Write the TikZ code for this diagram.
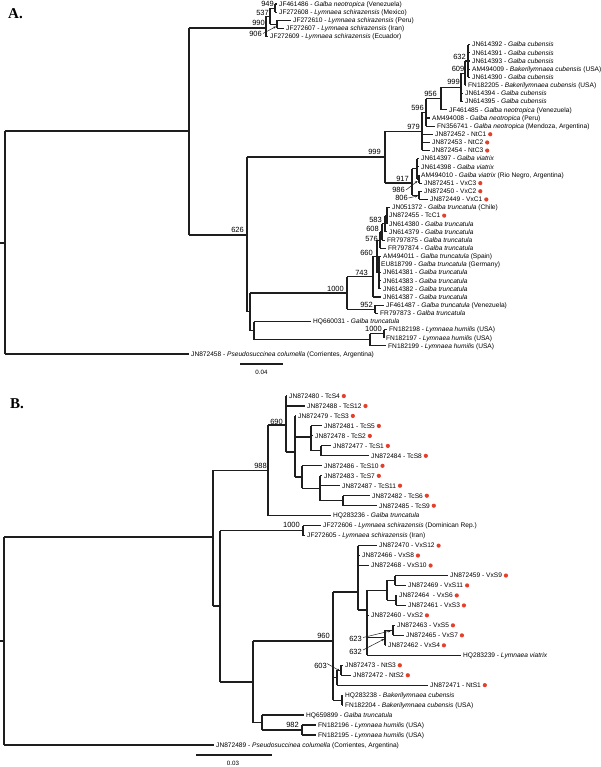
\documentclass[tikz,border=0pt]{standalone}
\usepackage{fontspec}
\setmainfont{Liberation Sans}
\newfontfamily\serifbold{Liberation Serif}
\usetikzlibrary{arrows.meta}
\definecolor{dotred}{HTML}{E5402B}
\definecolor{ln}{HTML}{1E1E1E}
\tikzset{
  br/.style={line width=1.05pt, draw=ln},
  tl/.style={anchor=base west, inner sep=0pt, font=\fontsize{6.6}{7}\selectfont},
  bs/.style={anchor=base east, inner sep=0pt, font=\fontsize{7.5}{8}\selectfont},
  pl/.style={anchor=base west, inner sep=0pt, font=\serifbold\bfseries\fontsize{15}{15}\selectfont},
  sc/.style={anchor=base, inner sep=0pt, font=\fontsize{6.2}{7}\selectfont},
  arr/.style={-{Stealth[length=3pt,width=2.2pt]}, line width=0.5pt, draw=ln},
}
\newcommand\myv[3]{\draw[br] (#1,#2) -- (#1,#3);}
\newcommand\myh[3]{\draw[br] (#1,#3) -- (#2,#3);}
\newcommand\mytip[5]{\draw[br] (#2,#4) -- (#3,#4); \node[tl, xshift=2pt, yshift=-2.3pt] (#1) at (#3,#4) {#5};}
\newcommand\myb[3]{\node[bs] at (#1,#2) {#3};}
\newcommand\mydot[1]{\fill[dotred] ([xshift=3.8pt]#1.east) circle (2.1pt);}
\begin{document}
\begin{tikzpicture}[x=1pt,y=-1pt]
\useasboundingbox (0,0) rectangle (600,767);
\fill[white] (0,0) rectangle (600,767);

% ================= Panel A =================
\node[pl] (lA) at (8,19) {A.};
\myh{0}{5}{243}
\myv{5}{131}{354}
\myh{5}{189}{131}
\myv{189}{28}{235}
% schirazensis clade
\myh{189}{266}{28}
\myv{266}{16.2}{36.6}
\myh{266}{270}{16.2}
\myv{270}{8.05}{24.35}
\myh{270}{275}{8.05}
\myv{275}{4}{12.1}
\myh{270}{277}{24.35}
\myv{277}{20.3}{28.4}
\mytip{a0}{275}{277}{4.0}{JF461486 - \textit{Galba neotropica} (Venezuela)}
\mytip{a1}{275}{277}{12.1}{JF272608 - \textit{Lymnaea schirazensis} (Mexico)}
\mytip{a2}{277}{291}{20.3}{JF272610 - \textit{Lymnaea schirazensis} (Peru)}
\mytip{a3}{277}{284}{28.4}{JF272607 - \textit{Lymnaea schirazensis} (Iran)}
\mytip{a4}{266}{268}{36.6}{JF272609 - \textit{Lymnaea schirazensis} (Ecuador)}
\myb{274}{7}{949}
\myb{269}{15.5}{537}
\myb{265}{26}{990}
\myb{262}{37}{906}
\draw[arr] (263,33.5) -- (276,26.5);

% main clade
\myh{189}{247}{235}
\myv{247}{157}{311.8}
\myb{244}{232}{626}
\myh{247}{385}{157}
\myv{385}{131.5}{183}
\myb{381}{155}{999}
% cubensis / neotropica
\myh{385}{422}{131.5}
\myv{422}{112.4}{150.5}
\myb{420}{129.5}{979}
\myh{422}{426}{112.4}
\myv{426}{98.6}{126.1}
\myb{424}{110.5}{596}
\myh{426}{441}{98.6}
\myv{441}{87.5}{109.8}
\myb{437}{97}{956}
\myh{441}{461}{87.5}
\myv{461}{73.2}{101.7}
\myb{460}{85}{999}
\myh{461}{465}{73.2}
\myv{465}{61}{85.4}
\myb{464.5}{71.5}{609}
\myh{465}{468}{61}
\myv{468}{44.7}{77.3}
\myb{466}{59.5}{632}
\mytip{a5}{468}{470}{44.7}{JN614392 - \textit{Galba cubensis}}
\mytip{a6}{468}{470}{52.8}{JN614391 - \textit{Galba cubensis}}
\mytip{a7}{468}{470}{61.0}{JN614393 - \textit{Galba cubensis}}
\mytip{a8}{468}{470}{69.1}{AM494009 - \textit{Bakerilymnaea cubensis} (USA)}
\mytip{a9}{468}{470}{77.3}{JN614390 - \textit{Galba cubensis}}
\mytip{a10}{465}{466}{85.4}{FN182205 - \textit{Bakerilymnaea cubensis} (USA)}
\mytip{a11}{461}{463}{93.5}{JN614394 - \textit{Galba cubensis}}
\mytip{a12}{461}{463}{101.7}{JN614395 - \textit{Galba cubensis}}
\mytip{a13}{441}{447}{109.8}{JF461485 - \textit{Galba neotropica} (Venezuela)}
\mytip{a14}{426}{430}{118.0}{AM494008 - \textit{Galba neotropica} (Peru)}
\mytip{a15}{426}{435}{126.1}{FN356741 - \textit{Galba neotropica} (Mendoza, Argentina)}
\mytip{a16}{422}{433}{134.2}{JN872452 - NtC1}\mydot{a16}
\mytip{a17}{422}{430}{142.4}{JN872453 - NtC2}\mydot{a17}
\mytip{a18}{422}{430}{150.5}{JN872454 - NtC3}\mydot{a18}
% viatrix
\myh{385}{412}{183}
\myv{412}{168.9}{195.3}
\myh{412}{417}{168.9}
\myv{417}{158.7}{179}
\myh{417}{419}{179}
\myv{419}{174.9}{183.1}
\myh{412}{419}{195.3}
\myv{419}{191.2}{199.4}
\mytip{a19}{417}{419}{158.7}{JN614397 - \textit{Galba viatrix}}
\mytip{a20}{417}{419}{166.8}{JN614398 - \textit{Galba viatrix}}
\mytip{a21}{419}{419}{174.9}{AM494010 - \textit{Galba viatrix} (Rio Negro, Argentina)}
\mytip{a22}{419}{422}{183.1}{JN872451 - VxC3}\mydot{a22}
\mytip{a23}{419}{422}{191.2}{JN872450 - VxC2}\mydot{a23}
\mytip{a24}{419}{428}{199.4}{JN872449 - VxC1}\mydot{a24}
\myb{409}{182}{917}
\myb{405}{193}{986}
\draw[arr] (406,190) -- (417.5,181);
\myb{408}{200.5}{806}
\draw[arr] (408.5,198) -- (418,195.8);
% truncatula
\myh{250}{347}{293}
\myv{347}{276.7}{309.3}
\myb{344}{291}{1000}
\myh{347}{373}{276.7}
\myv{373}{256.3}{297}
\myb{368}{275}{743}
\myh{373}{377}{256.3}
\myv{377}{240.1}{272.6}
\myb{373}{255}{660}
\myh{377}{380}{240.1}
\myv{380}{231.9}{248.2}
\myb{378}{241.5}{576}
\myh{380}{382}{231.9}
\myv{382}{223.8}{240.1}
\myb{379}{231.5}{608}
\myh{382}{385}{223.8}
\myv{385}{215.6}{231.9}
\myb{382}{222.5}{583}
\myh{385}{387}{215.6}
\myv{387}{207.5}{223.8}
\mytip{a25}{387}{390}{207.5}{JN051372 - \textit{Galba truncatula} (Chile)}
\mytip{a26}{387}{387}{215.6}{JN872455 - TcC1}\mydot{a26}
\mytip{a27}{387}{387}{223.8}{JN614380 - \textit{Galba truncatula}}
\mytip{a28}{385}{387}{231.9}{JN614379 - \textit{Galba truncatula}}
\mytip{a29}{382}{385}{240.1}{FR797875 - \textit{Galba truncatula}}
\mytip{a30}{380}{386}{248.2}{FR797874 - \textit{Galba truncatula}}
\myh{377}{379}{272.6}
\myv{379}{256.3}{288.9}
\mytip{a31}{379}{381}{256.3}{AM494011 - \textit{Galba truncatula} (Spain)}
\mytip{a32}{379}{379}{264.5}{EU818799 - \textit{Galba truncatula} (Germany)}
\mytip{a33}{379}{381}{272.6}{JN614381 - \textit{Galba truncatula}}
\mytip{a34}{379}{381}{280.8}{JN614383 - \textit{Galba truncatula}}
\mytip{a35}{379}{381}{288.9}{JN614382 - \textit{Galba truncatula}}
\mytip{a36}{373}{381}{297.0}{JN614387 - \textit{Galba truncatula}}
\myh{347}{375}{309.3}
\myv{375}{305.2}{313.3}
\myb{373}{307}{952}
\mytip{a37}{375}{384}{305.2}{JF461487 - \textit{Galba truncatula} (Venezuela)}
\mytip{a38}{375}{378}{313.3}{FR797873 - \textit{Galba truncatula}}
% HQ660031 + humilis
\myh{247}{250}{311.8}
\myv{250}{293}{330.7}
\myh{250}{254}{330.7}
\myv{254}{321.5}{339.8}
\mytip{a39}{254}{311}{321.5}{HQ660031 - \textit{Galba truncatula}}
\myh{254}{370}{339.8}
\myv{370}{333.7}{345.9}
\myh{370}{384}{333.7}
\myv{384}{329.6}{337.7}
\myb{382}{331.5}{1000}
\mytip{a40}{384}{387}{329.6}{FN182198 - \textit{Lymnaea humilis} (USA)}
\mytip{a41}{384}{384}{337.7}{FN182197 - \textit{Lymnaea humilis} (USA)}
\mytip{a42}{370}{386}{345.9}{FN182199 - \textit{Lymnaea humilis} (USA)}
\mytip{a43}{5}{189}{354.0}{JN872458 - \textit{Pseudosuccinea columella} (Corrientes, Argentina)}
% scale A
\draw[br] (240,364) -- (283,364);
\node[sc] (sA) at (261.5,374) {0.04};

% ================= Panel B =================
\node[pl] (lB) at (10,408) {B.};
\myh{0}{4}{641}
\myv{4}{537}{745}
\myh{4}{213}{537}
\myv{213}{470.3}{606}
\myh{213}{268}{470.3}
\myb{267}{468}{988}
\myv{268}{425}{515.6}
\myh{268}{286}{425}
\myb{283}{424}{690}
\myv{286}{396}{452}
\myh{286}{295}{452}
\myv{295}{415.9}{477}
\myh{295}{311}{437}
\myv{311}{425.9}{450.85}
\myh{311}{321}{450.85}
\myv{321}{445.9}{455.8}
\myh{295}{302}{477}
\myv{302}{465.8}{488.2}
\myh{302}{320}{488.2}
\myv{320}{475.8}{500.7}
\myh{320}{343}{500.7}
\myv{343}{495.7}{505.7}
\mytip{b0}{286}{287}{396.0}{JN872480 - TcS4}\mydot{b0}
\mytip{b1}{286}{305}{406.0}{JN872488 - TcS12}\mydot{b1}
\mytip{b2}{295}{296}{415.9}{JN872479 - TcS3}\mydot{b2}
\mytip{b3}{311}{322}{425.9}{JN872481 - TcS5}\mydot{b3}
\mytip{b4}{311}{313}{435.9}{JN872478 - TcS2}\mydot{b4}
\mytip{b5}{321}{331}{445.9}{JN872477 - TcS1}\mydot{b5}
\mytip{b6}{321}{369}{455.8}{JN872484 - TcS8}\mydot{b6}
\mytip{b7}{302}{322}{465.8}{JN872486 - TcS10}\mydot{b7}
\mytip{b8}{320}{322}{475.8}{JN872483 - TcS7}\mydot{b8}
\mytip{b9}{320}{340}{485.7}{JN872487 - TcS11}\mydot{b9}
\mytip{b10}{343}{370}{495.7}{JN872482 - TcS6}\mydot{b10}
\mytip{b11}{343}{377}{505.7}{JN872485 - TcS9}\mydot{b11}
\mytip{b12}{268}{331}{515.6}{HQ283236 - \textit{Galba truncatula}}
% schirazensis
\myh{213}{220}{606}
\myv{220}{530.6}{682}
\myh{220}{303}{530.6}
\myv{303}{525.6}{535.6}
\myb{300}{527}{1000}
\mytip{b13}{303}{321}{525.6}{JF272606 - \textit{Lymnaea schirazensis} (Dominican Rep.)}
\mytip{b14}{303}{305}{535.6}{JF272605 - \textit{Lymnaea schirazensis} (Iran)}
% big clade
\myh{220}{253}{682}
\myv{253}{641}{722.5}
\myh{253}{333}{641}
\myb{330}{638}{960}
\myv{333}{592}{700.1}
\myh{333}{358}{592}
\myv{358}{545.6}{610}
\myh{358}{367}{610}
\myv{367}{590.4}{655.2}
\myh{367}{387}{590.4}
\myv{387}{580.45}{600.4}
\myh{387}{395}{580.45}
\myv{395}{575.5}{585.4}
\myh{387}{396}{600.4}
\myv{396}{595.4}{605.4}
\myh{367}{385}{637.8}
\myv{385}{630.3}{645.3}
\myh{385}{393}{630.3}
\myv{393}{625.3}{635.3}
\mytip{b15}{358}{377}{545.6}{JN872470 - VxS12}\mydot{b15}
\mytip{b16}{358}{360}{555.5}{JN872466 - VxS8}\mydot{b16}
\mytip{b17}{358}{369}{565.5}{JN872468 - VxS10}\mydot{b17}
\mytip{b18}{395}{448}{575.5}{JN872459 - VxS9}\mydot{b18}
\mytip{b19}{395}{406}{585.4}{JN872469 - VxS11}\mydot{b19}
\mytip{b20}{396}{397}{595.4}{JN872464\ \ - VxS6}\mydot{b20}
\mytip{b21}{396}{406}{605.4}{JN872461 - VxS3}\mydot{b21}
\mytip{b22}{367}{369}{615.3}{JN872460 - VxS2}\mydot{b22}
\mytip{b23}{393}{395}{625.3}{JN872463 - VxS5}\mydot{b23}
\mytip{b24}{393}{404}{635.3}{JN872465 - VxS7}\mydot{b24}
\mytip{b25}{385}{386}{645.3}{JN872462 - VxS4}\mydot{b25}
\mytip{b26}{367}{461}{655.2}{HQ283239 - \textit{Lymnaea viatrix}}
\myb{362}{641}{623}
\draw[arr] (363,637.5) -- (391,630.8);
\myb{362}{654}{632}
\draw[arr] (363,650) -- (384.2,639);
% Nt
\myh{333}{337}{677.7}
\myv{337}{670.2}{685.1}
\myh{337}{341}{670.2}
\myv{341}{665.2}{675.2}
\mytip{b27}{341}{343}{665.2}{JN872473 - NtS3}\mydot{b27}
\mytip{b28}{341}{351}{675.2}{JN872472 - NtS2}\mydot{b28}
\mytip{b29}{337}{428}{685.1}{JN872471 - NtS1}\mydot{b29}
\myb{327}{668}{603}
\draw[arr] (327,663.5) -- (340,671);
\myh{333}{342}{700.1}
\myv{342}{695.1}{705.1}
\mytip{b30}{342}{343}{695.1}{HQ283238 - \textit{Bakerilymnaea cubensis}}
\mytip{b31}{342}{343}{705.1}{FN182204 - \textit{Bakerilymnaea cubensis} (USA)}
% truncatula + humilis
\myh{253}{262}{722.5}
\myv{262}{715}{730}
\mytip{b32}{262}{304}{715.0}{HQ659899 - \textit{Galba truncatula}}
\myh{262}{302}{730}
\myv{302}{725}{735}
\myb{299}{727.5}{982}
\mytip{b33}{302}{316}{725.0}{FN182196 - \textit{Lymnaea humilis} (USA)}
\mytip{b34}{302}{316}{735.0}{FN182195 - \textit{Lymnaea humilis} (USA)}
\mytip{b35}{4}{214}{745.0}{JN872489 - \textit{Pseudosuccinea columella} (Corrientes, Argentina)}
% scale B
\draw[br] (196,755) -- (272,755);
\node[sc] (sB) at (233,765.5) {0.03};
\end{tikzpicture}
\end{document}
